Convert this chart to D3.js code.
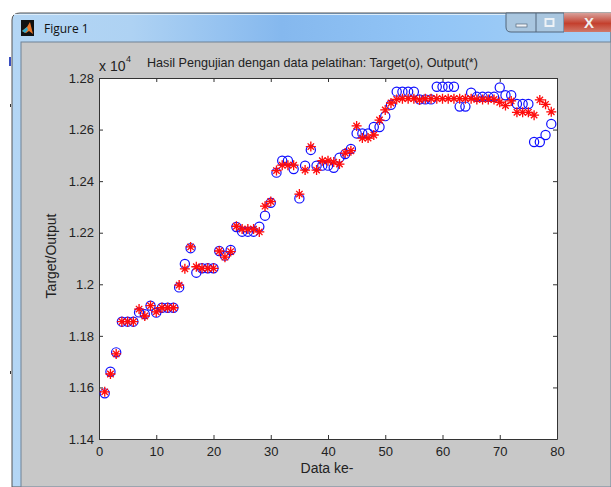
<!DOCTYPE html>
<html>
<head>
<meta charset="utf-8">
<script src="https://cdn.jsdelivr.net/npm/d3@7"></script>
<style>
  body { margin: 0; background: #fff; }
  svg { display: block; }
  text { font-family: "Liberation Sans", Arial, sans-serif; fill: #222; }
</style>
</head>
<body>
<div class="chart"></div>
<script>
// values are in units of 10^4
const target = [1.1577,1.1661,1.1736,1.1855,1.1855,1.1855,1.1891,1.1884,1.1917,1.189,
  1.1909,1.1909,1.1909,1.1988,1.2079,1.214,1.2045,1.2062,1.2062,1.2062,
  1.2129,1.2111,1.2133,1.2222,1.2204,1.2204,1.2204,1.2223,1.2266,1.2316,
  1.2433,1.2479,1.2479,1.2447,1.2333,1.246,1.2521,1.246,1.246,1.246,
  1.2452,1.2491,1.2505,1.2525,1.2585,1.2585,1.2585,1.261,1.261,1.2652,
  1.2696,1.2747,1.2747,1.2747,1.2747,1.2717,1.2717,1.2717,1.2766,1.2766,
  1.2766,1.2766,1.2689,1.2689,1.2743,1.2727,1.2727,1.2727,1.2727,1.2763,
  1.2733,1.2733,1.2699,1.2699,1.2699,1.2552,1.2552,1.2579,1.2622];
const output = [1.1583,1.1652,1.173,1.1855,1.1855,1.1855,1.1904,1.1877,1.1917,1.1893,
  1.1909,1.1909,1.1909,1.1997,1.206,1.2145,1.2068,1.2062,1.2062,1.2062,
  1.2129,1.2105,1.2127,1.2225,1.2214,1.2214,1.2214,1.2203,1.2303,1.2321,
  1.2441,1.2462,1.2462,1.2462,1.235,1.2443,1.2534,1.2443,1.2479,1.2479,
  1.2474,1.2466,1.2509,1.2518,1.2614,1.2567,1.2567,1.2579,1.2637,1.2676,
  1.2703,1.2717,1.272,1.272,1.272,1.2715,1.272,1.272,1.272,1.272,
  1.272,1.272,1.272,1.272,1.272,1.2717,1.2717,1.2717,1.2717,1.2706,
  1.2693,1.2711,1.2667,1.2667,1.2667,1.2656,1.2715,1.2698,1.2669];
const xTicks = [0,10,20,30,40,50,60,70,80];
const yTicks = [1.14,1.16,1.18,1.2,1.22,1.24,1.26,1.28];

const svg = d3.select(".chart")
  .append("svg")
    .attr("width", 611)
    .attr("height", 487);

const defs = svg.append("defs");
const glass = defs.append("linearGradient")
  .attr("id", "glass")
  .attr("x1", "0%").attr("x2", "100%").attr("y1", "0%").attr("y2", "0%");
glass.append("stop").attr("offset", "0%").attr("stop-color", "#b4d6f4");
glass.append("stop").attr("offset", "20%").attr("stop-color", "#aed2f3");
glass.append("stop").attr("offset", "45%").attr("stop-color", "#85b8ee");
glass.append("stop").attr("offset", "70%").attr("stop-color", "#92c5f6");
glass.append("stop").attr("offset", "100%").attr("stop-color", "#a5d0f6");

const closeGrad = defs.append("linearGradient")
  .attr("id", "close-btn")
  .attr("x1", "0%").attr("x2", "0%").attr("y1", "0%").attr("y2", "100%");
closeGrad.append("stop").attr("offset", "0%").attr("stop-color", "#d8a09a");
closeGrad.append("stop").attr("offset", "55%").attr("stop-color", "#c4402e");
closeGrad.append("stop").attr("offset", "100%").attr("stop-color", "#d0796a");

// slight softening, the marks in the picture are smeared
defs.append("filter").attr("id", "soft")
  .append("feGaussianBlur").attr("stdDeviation", 0.45);

// window frame
svg.append("path")
  .attr("d", "M12,487V20Q12,13 20,13H611V487Z")
  .attr("fill", "url(#glass)")
  .attr("stroke", "#555")
  .attr("stroke-width", 1);
svg.append("rect").attr("x", 14).attr("y", 14).attr("width", 597).attr("height", 1).attr("fill", "#dcecf9");
svg.append("rect")
  .attr("x", 21).attr("y", 42).attr("width", 590).attr("height", 445)
  .attr("fill", "#c8c8c8")
  .attr("stroke", "#6f8296")
  .attr("stroke-width", 1);

// stray desktop bits at the left edge
svg.append("rect").attr("x", 9).attr("y", 57).attr("width", 2).attr("height", 9).attr("fill", "#3a4fc0");
svg.append("rect").attr("x", 10).attr("y", 104).attr("width", 1).attr("height", 3).attr("fill", "#333");
svg.append("rect").attr("x", 10).attr("y", 371).attr("width", 1).attr("height", 3).attr("fill", "#333");

// title bar icon and caption
svg.append("rect").attr("x", 21).attr("y", 20).attr("width", 13).attr("height", 16).attr("fill", "#111");
svg.append("path").attr("d", "M22,31L27,27L30,22L33,34L29,31L26,33Z").attr("fill", "#e8762a");
svg.append("path").attr("d", "M22,31L27,27L28,30L25,33Z").attr("fill", "#35a8c8");
svg.append("text")
  .attr("x", 44).attr("y", 33)
  .style("font-family", "'Open Sans', 'Noto Sans', sans-serif")
  .style("font-size", "12px")
  .style("fill", "#111")
  .text("Figure 1");

// window buttons
const btn = svg.append("g");
btn.append("path").attr("d", "M506,13V27Q506,32 511,32H564V13Z").attr("fill", "#a9c6df").attr("stroke", "#52677c");
btn.append("line").attr("x1", 536).attr("x2", 536).attr("y1", 13).attr("y2", 32).attr("stroke", "#52677c");
btn.append("rect").attr("x", 564).attr("y", 13).attr("width", 47).attr("height", 19).attr("fill", "url(#close-btn)");
btn.append("rect").attr("x", 516).attr("y", 24).attr("width", 11).attr("height", 3).attr("fill", "#eef2f6").attr("stroke", "#56697c").attr("stroke-width", 0.7);
btn.append("rect").attr("x", 545.5).attr("y", 19).attr("width", 8).attr("height", 7).attr("fill", "none").attr("stroke", "#eef2f6").attr("stroke-width", 2);
btn.append("text").attr("x", 589).attr("y", 28).attr("text-anchor", "middle")
  .style("font-size", "15px").style("font-weight", "700").style("fill", "#f0f0f0").text("X");

// scales
const margin = { left: 99, right: 557, top: 78, bottom: 439 };
const xScale = d3.scaleLinear().domain([0, 80]).range([margin.left, margin.right]);
const yScale = d3.scaleLinear().domain([1.14, 1.28]).range([margin.bottom, margin.top]);

// plot area
svg.append("rect")
  .attr("x", margin.left).attr("y", margin.top)
  .attr("width", margin.right - margin.left).attr("height", margin.bottom - margin.top)
  .attr("fill", "#fff");

const styleAxis = g => {
  g.select(".domain").attr("stroke", "#333");
  g.selectAll(".tick line").attr("stroke", "#333");
  g.selectAll(".tick text").style("font-size", "13px").style("fill", "#222");
};

//xAxis
svg.append("g")
  .attr("transform", `translate(0,${margin.bottom})`)
  .call(d3.axisBottom(xScale).tickValues(xTicks).tickFormat(d3.format("d")).tickSizeInner(-4).tickSizeOuter(0).tickPadding(8))
  .call(styleAxis);
svg.append("g")
  .attr("transform", `translate(0,${margin.top})`)
  .call(d3.axisTop(xScale).tickValues(xTicks).tickFormat("").tickSizeInner(-4).tickSizeOuter(0))
  .call(styleAxis);

//yAxis
svg.append("g")
  .attr("transform", `translate(${margin.left},0)`)
  .call(d3.axisLeft(yScale).tickValues(yTicks).tickFormat(d => d3.format("~r")(d)).tickSizeInner(-4).tickSizeOuter(0).tickPadding(5))
  .call(styleAxis);
svg.append("g")
  .attr("transform", `translate(${margin.right},0)`)
  .call(d3.axisRight(yScale).tickValues(yTicks).tickFormat("").tickSizeInner(-4).tickSizeOuter(0))
  .call(styleAxis);

// target circles
svg.append("g").attr("filter", "url(#soft)").selectAll("circle")
  .data(target)
  .enter().append("circle")
    .attr("cx", (d, i) => xScale(i + 1))
    .attr("cy", d => yScale(d))
    .attr("r", 4.6)
    .attr("fill", "none")
    .attr("stroke", "#1010ff")
    .attr("stroke-width", 1.2);

// output stars
svg.append("g").attr("filter", "url(#soft)").selectAll("path")
  .data(output)
  .enter().append("path")
    .attr("transform", (d, i) => `translate(${xScale(i + 1)},${yScale(d)})`)
    .attr("d", "M-5,0H5M0,-5V5M-3.2,-3.2L3.2,3.2M-3.2,3.2L3.2,-3.2")
    .attr("fill", "none")
    .attr("stroke", "#ff0808")
    .attr("stroke-width", 1.3);

// titles
svg.append("text").attr("x", 99).attr("y", 71).style("font-size", "14px").text("x 10");
svg.append("text").attr("x", 126).attr("y", 62).style("font-size", "9px").text("4");
svg.append("text").attr("x", 147).attr("y", 67).style("font-size", "12.6px")
  .text("Hasil Pengujian dengan data pelatihan: Target(o), Output(*)");
svg.append("text").attr("x", 327).attr("y", 473).attr("text-anchor", "middle").style("font-size", "14px").text("Data ke-");
svg.append("text")
  .attr("transform", "translate(56,256) rotate(-90)")
  .attr("text-anchor", "middle")
  .style("font-size", "14px")
  .text("Target/Output");
</script>
</body>
</html>
